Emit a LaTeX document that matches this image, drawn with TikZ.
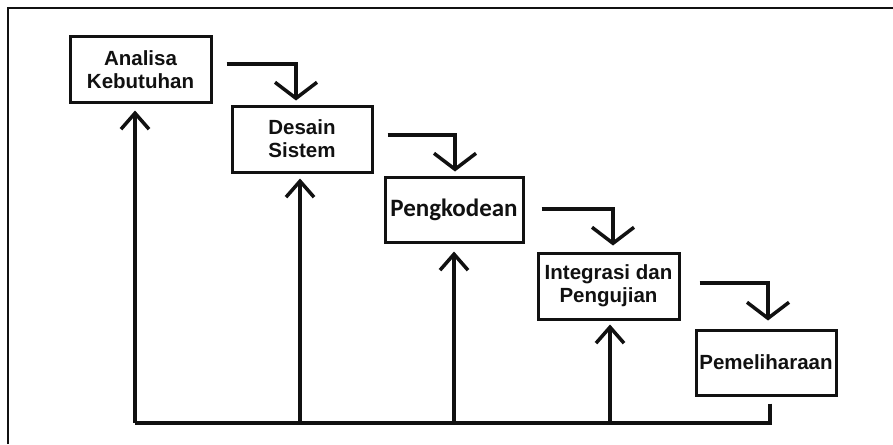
\documentclass[tikz,border=0pt]{standalone}
\usepackage{fontspec}
\setmainfont{Liberation Sans}
\newfontfamily\calibrifont{Carlito}
\usetikzlibrary{arrows.meta,calc}
\definecolor{ink}{HTML}{111111}
\tikzset{
  phase/.style={draw=ink, line width=3pt, fill=white, inner sep=0pt, align=center,
    font=\bfseries\fontsize{20.5}{23}\selectfont, text=ink},
  flowline/.style={draw=ink, line width=3.5pt},
  dnarrow/.style={flowline, -{Straight Barb[length=16pt,width=42pt,line width=3.5pt]}},
  uparrow/.style={flowline, -{Straight Barb[length=16pt,width=28pt,line width=3.5pt]}},
  frameline/.style={draw=ink, line width=1.6pt}
}
\begin{document}
\begin{tikzpicture}[x=1pt,y=-1pt]
\useasboundingbox (0,0) rectangle (893,444);
\fill[white] (0,0) rectangle (893,444);
\draw[frameline] (8,444) -- (8,8) -- (893,8);

\node[phase, minimum width=141pt, minimum height=65pt] (a) at (140.5,69.5) {Analisa\\Kebutuhan};
\node[phase, minimum width=140pt, minimum height=66pt] (b) at (302,139) {Desain\\Sistem};
\node[phase, minimum width=138pt, minimum height=65pt, font=\calibrifont\bfseries\fontsize{25}{27}\selectfont] (c) at (454,209.5) {Pengkodean};
\node[phase, minimum width=141pt, minimum height=66pt] (d) at (608.5,286) {Integrasi dan\\Pengujian};
\node[phase, minimum width=140pt, minimum height=65pt] (e) at (766,362.5) {Pemeliharaan};

% forward arrows
\draw[dnarrow, shorten >=4pt] ($(a.east)+(14,-5.5)$) -| ($(b.north)+(-6,0)$);
\draw[dnarrow, shorten >=4pt] ($(b.east)+(14,-4)$) -| ($(c.north)+(1,0)$);
\draw[dnarrow, shorten >=6pt] ($(c.east)+(17,-0.5)$) -| ($(d.north)+(4.5,0)$);
\draw[dnarrow, shorten >=8pt] ($(d.east)+(19,-3)$) -| ($(e.north)+(2,0)$);

% feedback line
\coordinate (r1) at (135,423);
\coordinate (r2) at (300,423);
\coordinate (r3) at (454,423);
\coordinate (r4) at (610,423);
\draw[flowline] ($(e.south)+(4,7)$) |- (r1);
\draw[uparrow, shorten >=7pt] (r1) -- (r1 |- a.south);
\draw[uparrow, shorten >=5pt] (r2) -- (r2 |- b.south);
\draw[uparrow, shorten >=8pt] (r3) -- (r3 |- c.south);
\draw[uparrow, shorten >=4pt] (r4) -- (r4 |- d.south);
\end{tikzpicture}
\end{document}
